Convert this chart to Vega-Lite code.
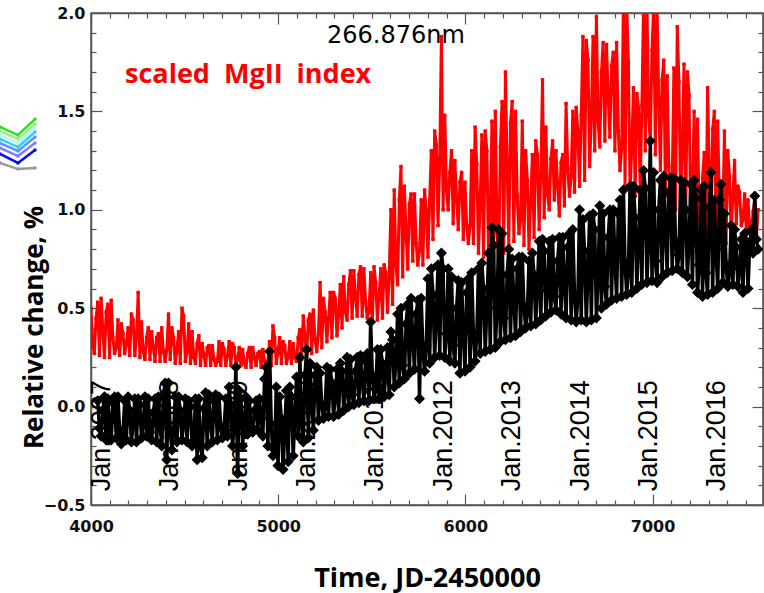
{
  "$schema": "https://vega.github.io/schema/vega-lite/v6.json",
  "width": 672,
  "height": 492,
  "autosize": {"type": "none"},
  "padding": {"left": 91, "top": 13, "right": 1, "bottom": 88},
  "background": "white",
  "config": {
    "view": {"stroke": "#555555", "strokeWidth": 1.5},
    "axis": {
      "domainColor": "#555555",
      "domainWidth": 1.5,
      "tickColor": "#555555",
      "tickWidth": 1.2,
      "grid": false,
      "labelFont": "DejaVu Sans",
      "labelFontWeight": "bold",
      "labelFontSize": 16,
      "labelColor": "#111111",
      "titleColor": "#000000"
    }
  },
  "datasets": {
    "red": [
      {"t":4000,"v":0.50},{"t":4009,"v":0.32},{"t":4018,"v":0.27},{"t":4027,"v":0.45},{"t":4036,"v":0.53},{"t":4045,"v":0.26},
      {"t":4054,"v":0.55},{"t":4063,"v":0.39},{"t":4072,"v":0.25},{"t":4081,"v":0.48},{"t":4090,"v":0.52},{"t":4099,"v":0.25},
      {"t":4108,"v":0.54},{"t":4117,"v":0.35},{"t":4126,"v":0.27},{"t":4135,"v":0.30},{"t":4144,"v":0.44},{"t":4153,"v":0.26},
      {"t":4162,"v":0.42},{"t":4171,"v":0.37},{"t":4180,"v":0.27},{"t":4189,"v":0.32},{"t":4198,"v":0.40},{"t":4207,"v":0.26},
      {"t":4216,"v":0.47},{"t":4225,"v":0.44},{"t":4234,"v":0.26},{"t":4243,"v":0.35},{"t":4252,"v":0.58},{"t":4261,"v":0.25},
      {"t":4270,"v":0.43},{"t":4279,"v":0.28},{"t":4288,"v":0.24},{"t":4297,"v":0.35},{"t":4306,"v":0.40},{"t":4315,"v":0.24},
      {"t":4324,"v":0.38},{"t":4333,"v":0.30},{"t":4342,"v":0.23},{"t":4351,"v":0.35},{"t":4360,"v":0.37},{"t":4369,"v":0.23},
      {"t":4378,"v":0.40},{"t":4387,"v":0.28},{"t":4396,"v":0.23},{"t":4405,"v":0.29},{"t":4414,"v":0.47},{"t":4423,"v":0.24},
      {"t":4432,"v":0.40},{"t":4441,"v":0.35},{"t":4450,"v":0.22},{"t":4459,"v":0.29},{"t":4468,"v":0.38},{"t":4477,"v":0.22},
      {"t":4486,"v":0.50},{"t":4495,"v":0.46},{"t":4504,"v":0.23},{"t":4513,"v":0.28},{"t":4522,"v":0.42},{"t":4531,"v":0.22},
      {"t":4540,"v":0.38},{"t":4549,"v":0.25},{"t":4558,"v":0.22},{"t":4567,"v":0.32},{"t":4576,"v":0.36},{"t":4585,"v":0.21},
      {"t":4594,"v":0.32},{"t":4603,"v":0.26},{"t":4612,"v":0.21},{"t":4621,"v":0.30},{"t":4630,"v":0.31},{"t":4639,"v":0.21},
      {"t":4648,"v":0.31},{"t":4657,"v":0.24},{"t":4666,"v":0.21},{"t":4675,"v":0.23},{"t":4684,"v":0.33},{"t":4693,"v":0.21},
      {"t":4702,"v":0.32},{"t":4711,"v":0.29},{"t":4720,"v":0.21},{"t":4729,"v":0.26},{"t":4738,"v":0.33},{"t":4747,"v":0.21},
      {"t":4756,"v":0.32},{"t":4765,"v":0.30},{"t":4774,"v":0.21},{"t":4783,"v":0.24},{"t":4792,"v":0.30},{"t":4801,"v":0.21},
      {"t":4810,"v":0.29},{"t":4819,"v":0.22},{"t":4828,"v":0.20},{"t":4837,"v":0.27},{"t":4846,"v":0.30},{"t":4855,"v":0.20},
      {"t":4864,"v":0.30},{"t":4873,"v":0.25},{"t":4882,"v":0.21},{"t":4891,"v":0.27},{"t":4900,"v":0.28},{"t":4909,"v":0.20},
      {"t":4918,"v":0.29},{"t":4927,"v":0.23},{"t":4936,"v":0.20},{"t":4945,"v":0.23},{"t":4954,"v":0.33},{"t":4963,"v":0.21},
      {"t":4972,"v":0.41},{"t":4981,"v":0.35},{"t":4990,"v":0.22},{"t":4999,"v":0.28},{"t":5008,"v":0.35},{"t":5017,"v":0.22},
      {"t":5026,"v":0.33},{"t":5035,"v":0.31},{"t":5044,"v":0.22},{"t":5053,"v":0.25},{"t":5062,"v":0.33},{"t":5071,"v":0.22},
      {"t":5080,"v":0.32},{"t":5089,"v":0.25},{"t":5098,"v":0.23},{"t":5107,"v":0.35},{"t":5116,"v":0.39},{"t":5125,"v":0.24},
      {"t":5134,"v":0.46},{"t":5143,"v":0.35},{"t":5152,"v":0.26},{"t":5161,"v":0.44},{"t":5170,"v":0.47},{"t":5179,"v":0.27},
      {"t":5188,"v":0.49},{"t":5197,"v":0.34},{"t":5206,"v":0.28},{"t":5215,"v":0.37},{"t":5224,"v":0.63},{"t":5233,"v":0.30},
      {"t":5242,"v":0.55},{"t":5251,"v":0.48},{"t":5260,"v":0.33},{"t":5269,"v":0.45},{"t":5278,"v":0.58},{"t":5287,"v":0.35},
      {"t":5296,"v":0.58},{"t":5305,"v":0.55},{"t":5314,"v":0.36},{"t":5323,"v":0.47},{"t":5332,"v":0.62},{"t":5341,"v":0.40},
      {"t":5350,"v":0.66},{"t":5359,"v":0.48},{"t":5368,"v":0.44},{"t":5377,"v":0.62},{"t":5386,"v":0.69},{"t":5395,"v":0.45},
      {"t":5404,"v":0.69},{"t":5413,"v":0.56},{"t":5422,"v":0.46},{"t":5431,"v":0.67},{"t":5440,"v":0.71},{"t":5449,"v":0.46},
      {"t":5458,"v":0.70},{"t":5467,"v":0.53},{"t":5476,"v":0.45},{"t":5485,"v":0.48},{"t":5494,"v":0.68},{"t":5503,"v":0.43},
      {"t":5512,"v":0.71},{"t":5521,"v":0.63},{"t":5530,"v":0.44},{"t":5539,"v":0.56},{"t":5548,"v":0.70},{"t":5557,"v":0.45},
      {"t":5566,"v":0.72},{"t":5575,"v":0.68},{"t":5584,"v":0.48},{"t":5593,"v":0.66},{"t":5602,"v":1.00},{"t":5611,"v":0.52},
      {"t":5620,"v":1.10},{"t":5629,"v":0.72},{"t":5638,"v":0.62},{"t":5647,"v":1.05},{"t":5656,"v":1.22},{"t":5665,"v":0.66},
      {"t":5674,"v":1.12},{"t":5683,"v":0.89},{"t":5692,"v":0.70},{"t":5701,"v":1.03},{"t":5710,"v":1.08},{"t":5719,"v":0.74},
      {"t":5728,"v":1.08},{"t":5737,"v":0.83},{"t":5746,"v":0.72},{"t":5755,"v":0.79},{"t":5764,"v":1.05},{"t":5773,"v":0.72},
      {"t":5782,"v":1.10},{"t":5791,"v":1.00},{"t":5800,"v":0.76},{"t":5809,"v":1.05},{"t":5818,"v":1.30},{"t":5827,"v":0.85},
      {"t":5836,"v":1.40},{"t":5845,"v":1.33},{"t":5854,"v":0.92},{"t":5863,"v":1.26},{"t":5872,"v":1.88},{"t":5881,"v":1.00},
      {"t":5890,"v":1.48},{"t":5899,"v":1.10},{"t":5908,"v":1.00},{"t":5917,"v":1.19},{"t":5926,"v":1.30},{"t":5935,"v":0.93},
      {"t":5944,"v":1.25},{"t":5953,"v":1.06},{"t":5962,"v":0.90},{"t":5971,"v":1.14},{"t":5980,"v":1.19},{"t":5989,"v":0.85},
      {"t":5998,"v":1.14},{"t":6007,"v":0.92},{"t":6016,"v":0.83},{"t":6025,"v":0.92},{"t":6034,"v":1.30},{"t":6043,"v":0.83},
      {"t":6052,"v":1.42},{"t":6061,"v":1.23},{"t":6070,"v":0.78},{"t":6079,"v":1.04},{"t":6088,"v":1.38},{"t":6097,"v":0.76},
      {"t":6106,"v":1.40},{"t":6115,"v":1.30},{"t":6124,"v":0.75},{"t":6133,"v":0.97},{"t":6142,"v":1.45},{"t":6151,"v":0.76},
      {"t":6160,"v":1.50},{"t":6169,"v":0.89},{"t":6178,"v":0.74},{"t":6187,"v":1.32},{"t":6196,"v":1.55},{"t":6205,"v":0.78},
      {"t":6214,"v":1.70},{"t":6223,"v":1.22},{"t":6232,"v":0.82},{"t":6241,"v":1.44},{"t":6250,"v":1.55},{"t":6259,"v":0.84},
      {"t":6268,"v":1.50},{"t":6277,"v":1.07},{"t":6286,"v":0.88},{"t":6295,"v":0.95},{"t":6304,"v":1.45},{"t":6313,"v":0.82},
      {"t":6322,"v":1.30},{"t":6331,"v":1.15},{"t":6340,"v":0.80},{"t":6349,"v":1.05},{"t":6358,"v":1.28},{"t":6367,"v":0.86},
      {"t":6376,"v":1.35},{"t":6385,"v":1.28},{"t":6394,"v":0.90},{"t":6403,"v":1.17},{"t":6412,"v":1.66},{"t":6421,"v":0.96},
      {"t":6430,"v":1.42},{"t":6439,"v":1.08},{"t":6448,"v":1.00},{"t":6457,"v":1.26},{"t":6466,"v":1.35},{"t":6475,"v":1.05},
      {"t":6484,"v":1.30},{"t":6493,"v":1.12},{"t":6502,"v":0.97},{"t":6511,"v":1.24},{"t":6520,"v":1.28},{"t":6529,"v":1.02},
      {"t":6538,"v":1.54},{"t":6547,"v":1.21},{"t":6556,"v":1.07},{"t":6565,"v":1.17},{"t":6574,"v":1.50},{"t":6583,"v":1.09},
      {"t":6592,"v":1.52},{"t":6601,"v":1.40},{"t":6610,"v":1.12},{"t":6619,"v":1.48},{"t":6628,"v":1.88},{"t":6637,"v":1.15},
      {"t":6646,"v":1.86},{"t":6655,"v":1.76},{"t":6664,"v":1.22},{"t":6673,"v":1.47},{"t":6682,"v":1.88},{"t":6691,"v":1.30},
      {"t":6700,"v":1.98},{"t":6709,"v":1.45},{"t":6718,"v":1.32},{"t":6727,"v":1.70},{"t":6736,"v":1.85},{"t":6745,"v":1.35},
      {"t":6754,"v":1.84},{"t":6763,"v":1.58},{"t":6772,"v":1.37},{"t":6781,"v":1.73},{"t":6790,"v":1.80},{"t":6799,"v":1.30},
      {"t":6808,"v":1.85},{"t":6817,"v":1.40},{"t":6826,"v":1.20},{"t":6835,"v":1.31},{"t":6844,"v":2.05},{"t":6853,"v":1.12},
      {"t":6862,"v":2.04},{"t":6871,"v":1.75},{"t":6880,"v":1.08},{"t":6889,"v":1.32},{"t":6898,"v":1.62},{"t":6907,"v":1.07},
      {"t":6916,"v":1.59},{"t":6925,"v":1.52},{"t":6934,"v":1.10},{"t":6943,"v":1.53},{"t":6952,"v":2.05},{"t":6961,"v":1.30},
      {"t":6970,"v":2.05},{"t":6979,"v":1.48},{"t":6988,"v":1.34},{"t":6997,"v":1.81},{"t":7006,"v":2.04},{"t":7015,"v":1.28},
      {"t":7024,"v":2.03},{"t":7033,"v":1.57},{"t":7042,"v":1.20},{"t":7051,"v":1.66},{"t":7060,"v":1.76},{"t":7069,"v":1.07},
      {"t":7078,"v":1.68},{"t":7087,"v":1.22},{"t":7096,"v":1.02},{"t":7105,"v":1.14},{"t":7114,"v":1.72},{"t":7123,"v":1.00},
      {"t":7132,"v":1.93},{"t":7141,"v":1.65},{"t":7150,"v":1.00},{"t":7159,"v":1.31},{"t":7168,"v":1.74},{"t":7177,"v":0.95},
      {"t":7186,"v":1.70},{"t":7195,"v":1.58},{"t":7204,"v":0.91},{"t":7213,"v":1.07},{"t":7222,"v":1.50},{"t":7231,"v":0.88},
      {"t":7240,"v":1.46},{"t":7249,"v":0.97},{"t":7258,"v":0.85},{"t":7267,"v":1.16},{"t":7276,"v":1.29},{"t":7285,"v":0.85},
      {"t":7294,"v":1.62},{"t":7303,"v":1.21},{"t":7312,"v":0.87},{"t":7321,"v":1.41},{"t":7330,"v":1.50},{"t":7339,"v":0.90},
      {"t":7348,"v":1.45},{"t":7357,"v":1.04},{"t":7366,"v":0.86},{"t":7375,"v":0.94},{"t":7384,"v":1.40},{"t":7393,"v":0.83},
      {"t":7402,"v":1.30},{"t":7411,"v":1.17},{"t":7420,"v":0.88},{"t":7429,"v":1.07},{"t":7438,"v":1.25},{"t":7447,"v":0.93},
      {"t":7456,"v":1.12},{"t":7465,"v":1.09},{"t":7474,"v":0.92},{"t":7483,"v":0.95},{"t":7492,"v":1.08},{"t":7501,"v":0.90},
      {"t":7510,"v":1.05},{"t":7519,"v":0.91},{"t":7528,"v":0.88},{"t":7537,"v":0.99},{"t":7546,"v":1.05},{"t":7555,"v":0.86},
      {"t":7564,"v":1.00}
    ],
    "black": [
      {"t":4036,"v":0.03},{"t":4045,"v":-0.11},{"t":4054,"v":-0.15},{"t":4063,"v":-0.02},{"t":4072,"v":0.05},{"t":4081,"v":-0.17},
      {"t":4090,"v":0.04},{"t":4099,"v":-0.08},{"t":4108,"v":-0.17},{"t":4117,"v":0.02},{"t":4126,"v":0.05},{"t":4135,"v":-0.16},
      {"t":4144,"v":0.05},{"t":4153,"v":-0.12},{"t":4162,"v":-0.19},{"t":4171,"v":-0.13},{"t":4180,"v":0.03},{"t":4189,"v":-0.17},
      {"t":4198,"v":0.05},{"t":4207,"v":-0.02},{"t":4216,"v":-0.18},{"t":4225,"v":-0.08},{"t":4234,"v":0.04},{"t":4243,"v":-0.18},
      {"t":4252,"v":0.04},{"t":4261,"v":0.01},{"t":4270,"v":-0.16},{"t":4279,"v":-0.09},{"t":4288,"v":0.05},{"t":4297,"v":-0.15},
      {"t":4306,"v":0.04},{"t":4315,"v":-0.13},{"t":4324,"v":-0.17},{"t":4333,"v":-0.03},{"t":4342,"v":0.04},{"t":4351,"v":-0.18},
      {"t":4360,"v":0.05},{"t":4369,"v":-0.09},{"t":4378,"v":-0.20},{"t":4387,"v":0.06},{"t":4396,"v":0.12},{"t":4405,"v":-0.27},
      {"t":4414,"v":0.12},{"t":4423,"v":-0.12},{"t":4432,"v":-0.22},{"t":4441,"v":-0.13},{"t":4450,"v":0.05},{"t":4459,"v":-0.18},
      {"t":4468,"v":0.05},{"t":4477,"v":-0.02},{"t":4486,"v":-0.17},{"t":4495,"v":-0.08},{"t":4504,"v":0.04},{"t":4513,"v":-0.18},
      {"t":4522,"v":0.03},{"t":4531,"v":0.00},{"t":4540,"v":-0.20},{"t":4549,"v":-0.18},{"t":4558,"v":0.04},{"t":4567,"v":-0.27},
      {"t":4576,"v":0.04},{"t":4585,"v":-0.20},{"t":4594,"v":-0.26},{"t":4603,"v":-0.01},{"t":4612,"v":0.07},{"t":4621,"v":-0.20},
      {"t":4630,"v":0.06},{"t":4639,"v":-0.07},{"t":4648,"v":-0.18},{"t":4657,"v":0.03},{"t":4666,"v":0.06},{"t":4675,"v":-0.17},
      {"t":4684,"v":0.05},{"t":4693,"v":-0.10},{"t":4702,"v":-0.16},{"t":4711,"v":-0.11},{"t":4720,"v":0.04},{"t":4729,"v":-0.15},
      {"t":4738,"v":0.10},{"t":4747,"v":0.01},{"t":4756,"v":-0.20},{"t":4765,"v":-0.10},{"t":4774,"v":0.20},{"t":4783,"v":-0.34},
      {"t":4792,"v":0.08},{"t":4801,"v":0.04},{"t":4810,"v":-0.20},{"t":4819,"v":-0.08},{"t":4828,"v":0.05},{"t":4837,"v":-0.14},
      {"t":4846,"v":0.03},{"t":4855,"v":-0.10},{"t":4864,"v":-0.13},{"t":4873,"v":-0.02},{"t":4882,"v":0.03},{"t":4891,"v":-0.12},
      {"t":4900,"v":0.04},{"t":4909,"v":-0.06},{"t":4918,"v":-0.15},{"t":4927,"v":0.14},{"t":4936,"v":0.20},{"t":4945,"v":-0.20},
      {"t":4954,"v":0.28},{"t":4963,"v":-0.09},{"t":4972,"v":-0.25},{"t":4981,"v":-0.22},{"t":4990,"v":0.10},{"t":4999,"v":-0.30},
      {"t":5008,"v":0.05},{"t":5017,"v":-0.06},{"t":5026,"v":-0.32},{"t":5035,"v":-0.12},{"t":5044,"v":0.08},{"t":5053,"v":-0.28},
      {"t":5062,"v":0.10},{"t":5071,"v":0.05},{"t":5080,"v":-0.25},{"t":5089,"v":-0.06},{"t":5098,"v":0.15},{"t":5107,"v":-0.15},
      {"t":5116,"v":0.25},{"t":5125,"v":-0.09},{"t":5134,"v":-0.18},{"t":5143,"v":0.16},{"t":5152,"v":0.29},{"t":5161,"v":-0.16},
      {"t":5170,"v":0.22},{"t":5179,"v":0.03},{"t":5188,"v":-0.12},{"t":5197,"v":0.16},{"t":5206,"v":0.20},{"t":5215,"v":-0.07},
      {"t":5224,"v":0.17},{"t":5233,"v":0.01},{"t":5242,"v":-0.06},{"t":5251,"v":0.00},{"t":5260,"v":0.20},{"t":5269,"v":-0.05},
      {"t":5278,"v":0.19},{"t":5287,"v":0.12},{"t":5296,"v":-0.05},{"t":5305,"v":0.06},{"t":5314,"v":0.19},{"t":5323,"v":-0.04},
      {"t":5332,"v":0.22},{"t":5341,"v":0.18},{"t":5350,"v":-0.02},{"t":5359,"v":0.08},{"t":5368,"v":0.25},{"t":5377,"v":0.00},
      {"t":5386,"v":0.24},{"t":5395,"v":0.06},{"t":5404,"v":0.01},{"t":5413,"v":0.18},{"t":5422,"v":0.25},{"t":5431,"v":0.02},
      {"t":5440,"v":0.26},{"t":5449,"v":0.13},{"t":5458,"v":0.03},{"t":5467,"v":0.23},{"t":5476,"v":0.27},{"t":5485,"v":0.03},
      {"t":5494,"v":0.43},{"t":5503,"v":0.16},{"t":5512,"v":0.04},{"t":5521,"v":0.09},{"t":5530,"v":0.29},{"t":5539,"v":0.04},
      {"t":5548,"v":0.29},{"t":5557,"v":0.22},{"t":5566,"v":0.05},{"t":5575,"v":0.17},{"t":5584,"v":0.30},{"t":5593,"v":0.06},
      {"t":5602,"v":0.38},{"t":5611,"v":0.34},{"t":5620,"v":0.10},{"t":5629,"v":0.23},{"t":5638,"v":0.47},{"t":5647,"v":0.12},
      {"t":5656,"v":0.50},{"t":5665,"v":0.21},{"t":5674,"v":0.14},{"t":5683,"v":0.42},{"t":5692,"v":0.52},{"t":5701,"v":0.17},
      {"t":5710,"v":0.55},{"t":5719,"v":0.35},{"t":5728,"v":0.19},{"t":5737,"v":0.47},{"t":5746,"v":0.54},{"t":5755,"v":0.04},
      {"t":5764,"v":0.55},{"t":5773,"v":0.29},{"t":5782,"v":0.18},{"t":5791,"v":0.31},{"t":5800,"v":0.65},{"t":5809,"v":0.22},
      {"t":5818,"v":0.70},{"t":5827,"v":0.57},{"t":5836,"v":0.25},{"t":5845,"v":0.47},{"t":5854,"v":0.72},{"t":5863,"v":0.26},
      {"t":5872,"v":0.78},{"t":5881,"v":0.70},{"t":5890,"v":0.25},{"t":5899,"v":0.37},{"t":5908,"v":0.70},{"t":5917,"v":0.23},
      {"t":5926,"v":0.66},{"t":5935,"v":0.31},{"t":5944,"v":0.22},{"t":5953,"v":0.50},{"t":5962,"v":0.64},{"t":5971,"v":0.17},
      {"t":5980,"v":0.63},{"t":5989,"v":0.38},{"t":5998,"v":0.18},{"t":6007,"v":0.58},{"t":6016,"v":0.65},{"t":6025,"v":0.20},
      {"t":6034,"v":0.68},{"t":6043,"v":0.37},{"t":6052,"v":0.23},{"t":6061,"v":0.36},{"t":6070,"v":0.70},{"t":6079,"v":0.27},
      {"t":6088,"v":0.73},{"t":6097,"v":0.60},{"t":6106,"v":0.28},{"t":6115,"v":0.51},{"t":6124,"v":0.78},{"t":6133,"v":0.29},
      {"t":6142,"v":0.91},{"t":6151,"v":0.82},{"t":6160,"v":0.30},{"t":6169,"v":0.50},{"t":6178,"v":0.90},{"t":6187,"v":0.33},
      {"t":6196,"v":0.88},{"t":6205,"v":0.45},{"t":6214,"v":0.34},{"t":6223,"v":0.67},{"t":6232,"v":0.80},{"t":6241,"v":0.35},
      {"t":6250,"v":0.75},{"t":6259,"v":0.54},{"t":6268,"v":0.36},{"t":6277,"v":0.70},{"t":6286,"v":0.76},{"t":6295,"v":0.38},
      {"t":6304,"v":0.76},{"t":6313,"v":0.51},{"t":6322,"v":0.40},{"t":6331,"v":0.48},{"t":6340,"v":0.74},{"t":6349,"v":0.41},
      {"t":6358,"v":0.78},{"t":6367,"v":0.67},{"t":6376,"v":0.42},{"t":6385,"v":0.62},{"t":6394,"v":0.84},{"t":6403,"v":0.44},
      {"t":6412,"v":0.85},{"t":6421,"v":0.79},{"t":6430,"v":0.46},{"t":6439,"v":0.59},{"t":6448,"v":0.84},{"t":6457,"v":0.48},
      {"t":6466,"v":0.85},{"t":6475,"v":0.56},{"t":6484,"v":0.49},{"t":6493,"v":0.74},{"t":6502,"v":0.86},{"t":6511,"v":0.47},
      {"t":6520,"v":0.86},{"t":6529,"v":0.63},{"t":6538,"v":0.45},{"t":6547,"v":0.81},{"t":6556,"v":0.88},{"t":6565,"v":0.44},
      {"t":6574,"v":0.90},{"t":6583,"v":0.57},{"t":6592,"v":0.43},{"t":6601,"v":0.55},{"t":6610,"v":1.00},{"t":6619,"v":0.44},
      {"t":6628,"v":0.95},{"t":6637,"v":0.79},{"t":6646,"v":0.43},{"t":6655,"v":0.68},{"t":6664,"v":0.97},{"t":6673,"v":0.44},
      {"t":6682,"v":0.98},{"t":6691,"v":0.90},{"t":6700,"v":0.45},{"t":6709,"v":0.66},{"t":6718,"v":1.02},{"t":6727,"v":0.50},
      {"t":6736,"v":0.98},{"t":6745,"v":0.61},{"t":6754,"v":0.52},{"t":6763,"v":0.86},{"t":6772,"v":1.00},{"t":6781,"v":0.54},
      {"t":6790,"v":1.00},{"t":6799,"v":0.75},{"t":6808,"v":0.55},{"t":6817,"v":0.98},{"t":6826,"v":1.05},{"t":6835,"v":0.56},
      {"t":6844,"v":1.10},{"t":6853,"v":0.73},{"t":6862,"v":0.57},{"t":6871,"v":0.69},{"t":6880,"v":1.12},{"t":6889,"v":0.58},
      {"t":6898,"v":1.12},{"t":6907,"v":0.96},{"t":6916,"v":0.60},{"t":6925,"v":0.84},{"t":6934,"v":1.10},{"t":6943,"v":0.62},
      {"t":6952,"v":1.20},{"t":6961,"v":1.11},{"t":6970,"v":0.63},{"t":6979,"v":0.85},{"t":6988,"v":1.35},{"t":6997,"v":0.64},
      {"t":7006,"v":1.19},{"t":7015,"v":0.74},{"t":7024,"v":0.63},{"t":7033,"v":1.00},{"t":7042,"v":1.15},{"t":7051,"v":0.66},
      {"t":7060,"v":1.17},{"t":7069,"v":0.90},{"t":7078,"v":0.68},{"t":7087,"v":1.09},{"t":7096,"v":1.16},{"t":7105,"v":0.69},
      {"t":7114,"v":1.16},{"t":7123,"v":0.84},{"t":7132,"v":0.70},{"t":7141,"v":0.77},{"t":7150,"v":1.15},{"t":7159,"v":0.68},
      {"t":7168,"v":1.14},{"t":7177,"v":1.00},{"t":7186,"v":0.66},{"t":7195,"v":0.85},{"t":7204,"v":1.13},{"t":7213,"v":0.62},
      {"t":7222,"v":1.15},{"t":7231,"v":1.06},{"t":7240,"v":0.58},{"t":7249,"v":0.72},{"t":7258,"v":1.10},{"t":7267,"v":0.56},
      {"t":7276,"v":1.12},{"t":7285,"v":0.68},{"t":7294,"v":0.57},{"t":7303,"v":1.01},{"t":7312,"v":1.19},{"t":7321,"v":0.58},
      {"t":7330,"v":1.05},{"t":7339,"v":0.80},{"t":7348,"v":0.60},{"t":7357,"v":1.05},{"t":7366,"v":1.13},{"t":7375,"v":0.63},
      {"t":7384,"v":0.98},{"t":7393,"v":0.72},{"t":7402,"v":0.61},{"t":7411,"v":0.68},{"t":7420,"v":0.92},{"t":7429,"v":0.62},
      {"t":7438,"v":0.90},{"t":7447,"v":0.81},{"t":7456,"v":0.61},{"t":7465,"v":0.70},{"t":7474,"v":0.85},{"t":7483,"v":0.58},
      {"t":7492,"v":0.88},{"t":7501,"v":0.84},{"t":7510,"v":0.60},{"t":7519,"v":0.82},{"t":7528,"v":0.90},{"t":7537,"v":0.78},
      {"t":7546,"v":1.07},{"t":7555,"v":0.85},{"t":7564,"v":0.80}
    ],
    "years": [
      {"t":4101.5,"v":-0.43,"label":"Jan.2007"},{"t":4466.5,"v":-0.43,"label":"Jan.2008"},{"t":4832.5,"v":-0.43,"label":"Jan.2009"},{"t":5197.5,"v":-0.43,"label":"Jan.2010"},{"t":5562.5,"v":-0.43,"label":"Jan.2011"},
      {"t":5927.5,"v":-0.43,"label":"Jan.2012"},{"t":6293.5,"v":-0.43,"label":"Jan.2013"},{"t":6658.5,"v":-0.43,"label":"Jan.2014"},{"t":7023.5,"v":-0.43,"label":"Jan.2015"},{"t":7388.5,"v":-0.43,"label":"Jan.2016"}
    ],
    "wave": [{"t":5629,"v":1.848,"label":"266.876nm"}],
    "mg": [{"t":4182,"v":1.644,"label":"scaled\u00a0\u00a0MgII\u00a0\u00a0index"}],
    "chev": [
      {"t":3514,"v":1.421,"s":"a"},{"t":3610,"v":1.380,"s":"a"},{"t":3701,"v":1.461,"s":"a"},
      {"t":3514,"v":1.400,"s":"b"},{"t":3610,"v":1.360,"s":"b"},{"t":3701,"v":1.436,"s":"b"},
      {"t":3514,"v":1.380,"s":"c"},{"t":3610,"v":1.339,"s":"c"},{"t":3701,"v":1.416,"s":"c"},
      {"t":3514,"v":1.360,"s":"d"},{"t":3610,"v":1.319,"s":"d"},{"t":3701,"v":1.395,"s":"d"},
      {"t":3514,"v":1.339,"s":"e"},{"t":3610,"v":1.299,"s":"e"},{"t":3701,"v":1.370,"s":"e"},
      {"t":3514,"v":1.314,"s":"f"},{"t":3610,"v":1.273,"s":"f"},{"t":3701,"v":1.339,"s":"f"},
      {"t":3514,"v":1.284,"s":"g"},{"t":3610,"v":1.238,"s":"g"},{"t":3701,"v":1.304,"s":"g"},
      {"t":3514,"v":1.238,"s":"h"},{"t":3610,"v":1.207,"s":"h"},{"t":3701,"v":1.212,"s":"h"}
    ]
  },
  "resolve": {"axis": {"x": "independent", "y": "independent"}},
  "layer": [
    {
      "data": {"name": "years"},
      "mark": {"type": "text", "angle": 270, "align": "left", "baseline": "alphabetic", "font": "Liberation Sans", "fontSize": 27, "color": "#000000"},
      "encoding": {
        "x": {"field": "t", "type": "quantitative", "scale": {"domain": [4000, 7590], "nice": false, "zero": false}, "axis": null},
        "y": {"field": "v", "type": "quantitative", "scale": {"domain": [-0.5, 2.0], "nice": false, "zero": false}, "axis": null},
        "text": {"field": "label"}
      }
    },
    {
      "data": {"name": "red"},
      "mark": {"type": "line", "color": "#ff0000", "strokeWidth": 3, "strokeJoin": "round", "strokeCap": "round", "clip": true},
      "encoding": {
        "x": {"field": "t", "type": "quantitative", "scale": {"domain": [4000, 7590], "nice": false, "zero": false},
          "axis": {"orient": "bottom", "title": "Time, JD-2450000", "format": "d",
            "values": [4000,4100,4200,4300,4400,4500,4600,4700,4800,4900,5000,5100,5200,5300,5400,5500,5600,5700,5800,5900,6000,6100,6200,6300,6400,6500,6600,6700,6800,6900,7000,7100,7200,7300,7400,7500],
            "labelExpr": "datum.value % 1000 === 0 ? datum.label : ''",
            "tickSize": {"condition": {"test": "datum.value % 1000 === 0", "value": -11}, "value": -5},
            "labelPadding": 24, "labelFlush": false, "labelOverlap": false,
            "titleFont": "Open Sans", "titleFontWeight": "bold", "titleFontSize": 27,
            "titleX": 336, "titleY": 81, "titleBaseline": "alphabetic", "titleAlign": "center", "titleAnchor": null}},
        "y": {"field": "v", "type": "quantitative", "scale": {"domain": [-0.5, 2.0], "nice": false, "zero": false},
          "axis": {"orient": "left", "title": "Relative change, %", "format": ".1f",
            "values": [-0.5,-0.4,-0.3,-0.2,-0.1,0,0.1,0.2,0.3,0.4,0.5,0.6,0.7,0.8,0.9,1.0,1.1,1.2,1.3,1.4,1.5,1.6,1.7,1.8,1.9,2.0],
            "labelExpr": "abs(datum.value * 2 - round(datum.value * 2)) < 0.001 ? datum.label : ''",
            "tickSize": {"condition": {"test": "abs(datum.value * 2 - round(datum.value * 2)) < 0.001", "value": -11}, "value": -5},
            "labelPadding": 17, "labelFlush": false, "labelOverlap": false,
            "titleFont": "Open Sans", "titleFontWeight": "bold", "titleFontSize": 26,
            "titleX": -49, "titleY": 314, "titleAngle": 270, "titleBaseline": "alphabetic", "titleAlign": "center", "titleAnchor": null}}
      }
    },
    {
      "data": {"name": "red"},
      "mark": {"type": "point", "shape": "square", "filled": true, "size": 12, "color": "#ff0000", "opacity": 1, "clip": true},
      "encoding": {
        "x": {"field": "t", "type": "quantitative", "scale": {"domain": [4000, 7590], "nice": false, "zero": false}, "axis": null},
        "y": {"field": "v", "type": "quantitative", "scale": {"domain": [-0.5, 2.0], "nice": false, "zero": false}, "axis": null}
      }
    },
    {
      "data": {"name": "black"},
      "mark": {"type": "line", "color": "#000000", "strokeWidth": 3.5, "strokeJoin": "round", "strokeCap": "round", "clip": true},
      "encoding": {
        "x": {"field": "t", "type": "quantitative", "scale": {"domain": [4000, 7590], "nice": false, "zero": false},
          "axis": {"orient": "top", "title": null, "labels": false, "domain": true,
            "values": [4000,4100,4200,4300,4400,4500,4600,4700,4800,4900,5000,5100,5200,5300,5400,5500,5600,5700,5800,5900,6000,6100,6200,6300,6400,6500,6600,6700,6800,6900,7000,7100,7200,7300,7400,7500],
            "tickSize": {"condition": {"test": "datum.value % 1000 === 0", "value": -11}, "value": -5}}},
        "y": {"field": "v", "type": "quantitative", "scale": {"domain": [-0.5, 2.0], "nice": false, "zero": false},
          "axis": {"orient": "right", "title": null, "labels": false, "domain": true,
            "values": [-0.5,-0.4,-0.3,-0.2,-0.1,0,0.1,0.2,0.3,0.4,0.5,0.6,0.7,0.8,0.9,1.0,1.1,1.2,1.3,1.4,1.5,1.6,1.7,1.8,1.9,2.0],
            "tickSize": {"condition": {"test": "abs(datum.value * 2 - round(datum.value * 2)) < 0.001", "value": -11}, "value": -5}}}
      }
    },
    {
      "data": {"name": "black"},
      "mark": {"type": "point", "shape": "diamond", "filled": true, "size": 80, "strokeWidth": 1.5, "stroke": "#000000", "color": "#000000", "opacity": 1, "clip": true},
      "encoding": {
        "x": {"field": "t", "type": "quantitative", "scale": {"domain": [4000, 7590], "nice": false, "zero": false}, "axis": null},
        "y": {"field": "v", "type": "quantitative", "scale": {"domain": [-0.5, 2.0], "nice": false, "zero": false}, "axis": null}
      }
    },
    {
      "data": {"name": "wave"},
      "mark": {"type": "text", "align": "center", "baseline": "alphabetic", "font": "DejaVu Sans", "fontSize": 24, "color": "#000000"},
      "encoding": {
        "x": {"field": "t", "type": "quantitative", "scale": {"domain": [4000, 7590], "nice": false, "zero": false}, "axis": null},
        "y": {"field": "v", "type": "quantitative", "scale": {"domain": [-0.5, 2.0], "nice": false, "zero": false}, "axis": null},
        "text": {"field": "label"}
      }
    },
    {
      "data": {"name": "mg"},
      "mark": {"type": "text", "align": "left", "baseline": "alphabetic", "font": "Open Sans", "fontWeight": "bold", "fontSize": 27, "color": "#ff0000"},
      "encoding": {
        "x": {"field": "t", "type": "quantitative", "scale": {"domain": [4000, 7590], "nice": false, "zero": false}, "axis": null},
        "y": {"field": "v", "type": "quantitative", "scale": {"domain": [-0.5, 2.0], "nice": false, "zero": false}, "axis": null},
        "text": {"field": "label"}
      }
    },
    {
      "data": {"name": "chev"},
      "mark": {"type": "line", "strokeWidth": 2.5, "clip": false, "point": {"size": 12, "filled": true}},
      "encoding": {
        "x": {"field": "t", "type": "quantitative", "scale": {"domain": [4000, 7590], "nice": false, "zero": false}, "axis": null},
        "y": {"field": "v", "type": "quantitative", "scale": {"domain": [-0.5, 2.0], "nice": false, "zero": false}, "axis": null},
        "color": {"field": "s", "type": "nominal", "legend": null,
          "scale": {"domain": ["a","b","c","d","e","f","g","h"], "range": ["#33dd22","#99ee88","#bbf2ee","#33ccff","#5599ff","#8877ff","#0011ee","#999999"]}},
        "order": {"field": "t", "type": "quantitative"}
      }
    }
  ]
}
